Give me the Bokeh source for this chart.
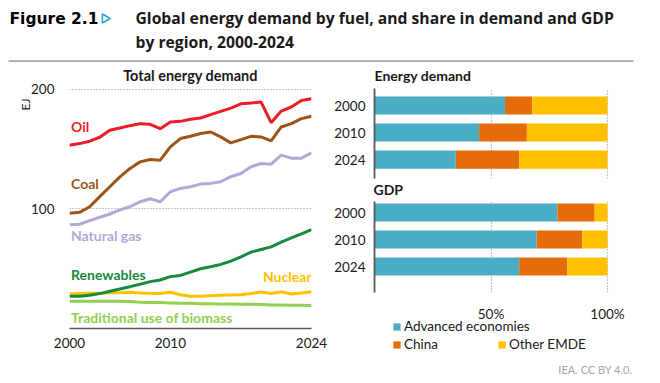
from bokeh.plotting import figure
from bokeh.models import (Range1d, FixedTicker, Label, Legend, LegendItem, Title,
                          ColumnDataSource, Grid, PrintfTickFormatter)
from bokeh.layouts import column, row
from bokeh.embed import file_html
from bokeh.resources import INLINE

# ---------------- data ----------------
years = [2000, 2001, 2002, 2003, 2004, 2005, 2006, 2007, 2008, 2009, 2010, 2011, 2012,
         2013, 2014, 2015, 2016, 2017, 2018, 2019, 2020, 2021, 2022, 2023, 2024]
oil = [153.3, 154.7, 156.7, 160.0, 165.8, 167.8, 169.7, 171.4, 170.8, 167.2, 172.8, 173.3, 175.0,
       176.1, 178.9, 181.7, 184.4, 188.0, 188.6, 189.4, 172.2, 181.9, 185.3, 190.8, 192.2]
coal = [96.4, 97.2, 101.9, 110.3, 118.6, 126.9, 133.9, 139.4, 141.4, 140.8, 151.9, 158.9, 160.8,
        163.1, 164.4, 160.3, 155.3, 158.0, 160.8, 160.3, 157.0, 168.6, 171.4, 175.6, 177.5]
gas = [86.7, 87.2, 90.3, 93.1, 95.8, 99.2, 101.9, 106.0, 108.6, 106.0, 114.4, 117.2, 118.6,
       120.8, 121.4, 122.8, 127.0, 129.7, 135.3, 138.0, 137.5, 145.0, 142.5, 142.5, 147.0]
renewables = [26.9, 26.9, 27.8, 29.2, 31.1, 33.1, 35.0, 37.0, 39.2, 40.6, 43.4, 44.4, 47.2,
              50.0, 51.7, 53.6, 56.4, 60.0, 63.9, 66.1, 68.3, 72.2, 75.8, 79.2, 82.8]
nuclear = [28.9, 29.2, 29.4, 29.4, 30.0, 30.0, 30.3, 29.7, 29.4, 29.2, 30.3, 28.3, 26.9,
           26.9, 27.5, 27.8, 28.1, 28.3, 29.2, 30.6, 29.2, 30.8, 28.9, 29.7, 30.8]
biomass = [22.8, 22.8, 22.8, 22.8, 22.8, 22.8, 22.5, 21.9, 21.7, 21.7, 21.4, 21.1, 21.1,
           20.8, 20.8, 20.5, 20.5, 20.3, 20.3, 20.0, 19.7, 19.7, 19.4, 19.4, 19.2]
line_ticks = [2000, 2010, 2024]
ej_ticks = [100, 200]

share_years = ["2000", "2010", "2024"]
energy_adv = [56.0, 44.9, 34.9]
energy_china = [11.7, 20.5, 27.2]
energy_other = [32.3, 34.6, 37.9]
gdp_adv = [78.5, 69.6, 62.1]
gdp_china = [16.0, 19.6, 20.7]
gdp_other = [5.5, 10.8, 17.2]
share_ticks = [50, 100]
regions = ["Advanced economies", "China", "Other EMDE"]

FONT = "Lato"
TXT = "#1a1a1a"
C_OIL, C_COAL, C_GAS = "#ee1c25", "#9c5418", "#b4a7d6"
C_REN, C_NUC, C_BIO = "#178a3d", "#ffc000", "#92d050"
C_ADV, C_CHN, C_OTH = "#4bacc6", "#e46c0a", "#ffc000"
SHARE_X = (0, 115.02)   # 100 % sits on the last dotted line; room on the right for the credit


def blank(width, height, xr, yr, x_axis=None, **kw):
    f = figure(width=width, height=height, x_range=Range1d(*xr), y_range=Range1d(*yr),
               toolbar_location=None, output_backend="svg",
               x_axis_location=x_axis, y_axis_location=None, **kw)
    f.grid.visible = False
    f.outline_line_color = None
    return f


def style_axis(ax, standoff):
    ax.major_tick_line_color = None
    ax.minor_tick_line_color = None
    ax.major_tick_out = 0
    ax.minor_tick_out = 0
    ax.major_label_standoff = standoff
    ax.major_label_text_font = FONT
    ax.major_label_text_font_size = "13.5px"
    ax.major_label_text_color = TXT


# ---------------- header ----------------
hdr = blank(652, 62, (0, 652), (0, 62), min_border=0)
hdr.add_layout(Label(x=9, y=44, text="Figure 2.1", text_font="DejaVu Sans", text_font_style="bold",
                     text_font_size="15.5px", text_color="#000000", text_baseline="middle"))
hdr.scatter(x=[104.5], y=[44], marker="triangle", angle=-1.5708, size=9, fill_color=None,
            line_color="#2aa5d0", line_width=1.6)
hdr.add_layout(Label(x=135, y=45, text="Global energy demand by fuel, and share in demand and GDP",
                     text_font="Open Sans", text_font_style="bold", text_font_size="15.7px",
                     text_color=TXT, text_baseline="middle"))
hdr.add_layout(Label(x=135, y=20.5, text="by region, 2000-2024",
                     text_font="Open Sans", text_font_style="bold", text_font_size="15.7px",
                     text_color=TXT, text_baseline="middle"))
hdr.line(x=[8, 633], y=[1.3, 1.3], line_color="#a6a6a6", line_width=2)

# ---------------- left: total energy demand ----------------
left = figure(width=330, height=313, x_range=Range1d(2000, 2024), y_range=Range1d(0, 203.3),
              toolbar_location=None, output_backend="svg",
              min_border_left=69, min_border_right=19, min_border_top=23, min_border_bottom=47)
left.outline_line_color = None
left.title.text = "Total energy demand"
left.title.align = "center"
left.title.text_font = FONT
left.title.text_font_size = "14.5px"
left.title.text_font_style = "bold"
left.title.text_color = TXT
left.title.standoff = 4
left.add_layout(Title(text="EJ", align="right", offset=13, standoff=-8, text_font=FONT,
                      text_font_size="12px", text_font_style="normal", text_color=TXT), "left")

left.xaxis.ticker = FixedTicker(ticks=line_ticks)
left.xaxis.axis_line_color = "#595959"
left.xaxis.axis_line_width = 1.5
style_axis(left.xaxis, 9)
left.yaxis.ticker = FixedTicker(ticks=ej_ticks)
left.yaxis.axis_line_color = None
style_axis(left.yaxis, 15)
left.xgrid.visible = False
left.ygrid.grid_line_color = "#8c8c8c"
left.ygrid.grid_line_dash = "1 2"
left.ygrid.grid_line_width = 1

for series, col in ((biomass, C_BIO), (nuclear, C_NUC), (renewables, C_REN),
                    (gas, C_GAS), (coal, C_COAL), (oil, C_OIL)):
    left.line(years, series, line_color=col, line_width=3)


def lab(fig, x, y, text, color, align="left"):
    fig.add_layout(Label(x=x, y=y, text=text, text_color=color, text_font=FONT,
                         text_font_style="bold", text_font_size="14px",
                         text_align=align, text_baseline="middle"))


lab(left, 2000.15, 169, "Oil", C_OIL)
lab(left, 2000.15, 121.3, "Coal", C_COAL)
lab(left, 2000.15, 77.8, "Natural gas", C_GAS)
lab(left, 2000.15, 45.2, "Renewables", C_REN)
lab(left, 2024, 43.5, "Nuclear", C_NUC, align="right")
lab(left, 2000.15, 9.2, "Traditional use of biomass", C_BIO)

# ---------------- right: share charts ----------------
pos = list(range(len(share_years)))[::-1]
label_map = {p: y for p, y in zip(pos, share_years)}


def share_fig(height, yr, top, bottom, src):
    f = figure(width=322, height=height, x_range=Range1d(*SHARE_X), y_range=Range1d(*yr),
               toolbar_location=None, output_backend="svg", x_axis_location=None,
               min_border_left=44, min_border_right=10,
               min_border_top=top, min_border_bottom=bottom)
    f.outline_line_color = None
    f.grid.visible = False
    f.add_layout(Grid(dimension=0, ticker=FixedTicker(ticks=share_ticks),
                      grid_line_color="#8c8c8c", grid_line_dash="1 2", grid_line_width=1.2))
    f.yaxis.ticker = FixedTicker(ticks=pos)
    f.yaxis.major_label_overrides = label_map
    f.yaxis.axis_line_color = "#595959"
    f.yaxis.axis_line_width = 1.8
    style_axis(f.yaxis, 9)
    f.hbar_stack(["adv", "china", "other"], y="pos", height=0.67, source=src,
                 color=[C_ADV, C_CHN, C_OTH], line_color=None)
    return f


en_src = ColumnDataSource(dict(pos=pos, adv=energy_adv, china=energy_china, other=energy_other))
gdp_src = ColumnDataSource(dict(pos=pos, adv=gdp_adv, china=gdp_china, other=gdp_other))

# panel title strip for the energy-demand bars
entitle = blank(322, 23, SHARE_X, (0, 23), min_border_left=44, min_border_right=10,
                min_border_top=0, min_border_bottom=0)
entitle.add_layout(Label(x=0, y=10, text="Energy demand", text_font=FONT,
                         text_font_style="bold", text_font_size="14px", text_color=TXT,
                         text_align="left", text_baseline="middle"))

en = share_fig(112, (-0.70, 2.63), 3, 19, en_src)
en.add_layout(Title(text="GDP", align="left", offset=-1, standoff=0, text_font=FONT,
                    text_font_size="14px", text_font_style="bold", text_color=TXT), "below")
gdp = share_fig(96, (-0.96, 2.41), 4, 1, gdp_src)

# ---------------- share axis labels, legend and credit ----------------
leg = blank(322, 89, SHARE_X, (10, 75), x_axis="above", min_border_left=44, min_border_right=10,
            min_border_top=24, min_border_bottom=0)
leg.xaxis.ticker = FixedTicker(ticks=share_ticks)
leg.xaxis.formatter = PrintfTickFormatter(format="%d%%")
leg.xaxis.axis_line_color = None
style_axis(leg.xaxis, -4)
# legend keys: the GDP bars, stacked below this strip's visible range
keys = leg.hbar_stack(["adv", "china", "other"], y="pos", height=0.67, source=gdp_src,
                      color=[C_ADV, C_CHN, C_OTH], line_color=None)
for name, r, loc in ((regions[0], keys[0], (18, 48)),
                     (regions[1], keys[1], (18, 30)),
                     (regions[2], keys[2], (123, 30))):
    leg.add_layout(Legend(items=[LegendItem(label=name, renderers=[r])], location=loc,
                          orientation="horizontal", padding=0, margin=0, spacing=0,
                          glyph_width=9, glyph_height=9, label_height=9, label_standoff=3,
                          label_text_font=FONT, label_text_font_size="13.5px",
                          label_text_color=TXT, border_line_color=None,
                          background_fill_alpha=0))
leg.add_layout(Label(x=110.73, y=23, text="IEA. CC BY 4.0.", text_align="right",
                     text_baseline="middle", text_font=FONT, text_font_size="11px",
                     text_color="#a6a6a6"))

layout = column(hdr, row(left, column(entitle, en, gdp, leg)))
open("out.html", "w").write(file_html(layout, INLINE))
